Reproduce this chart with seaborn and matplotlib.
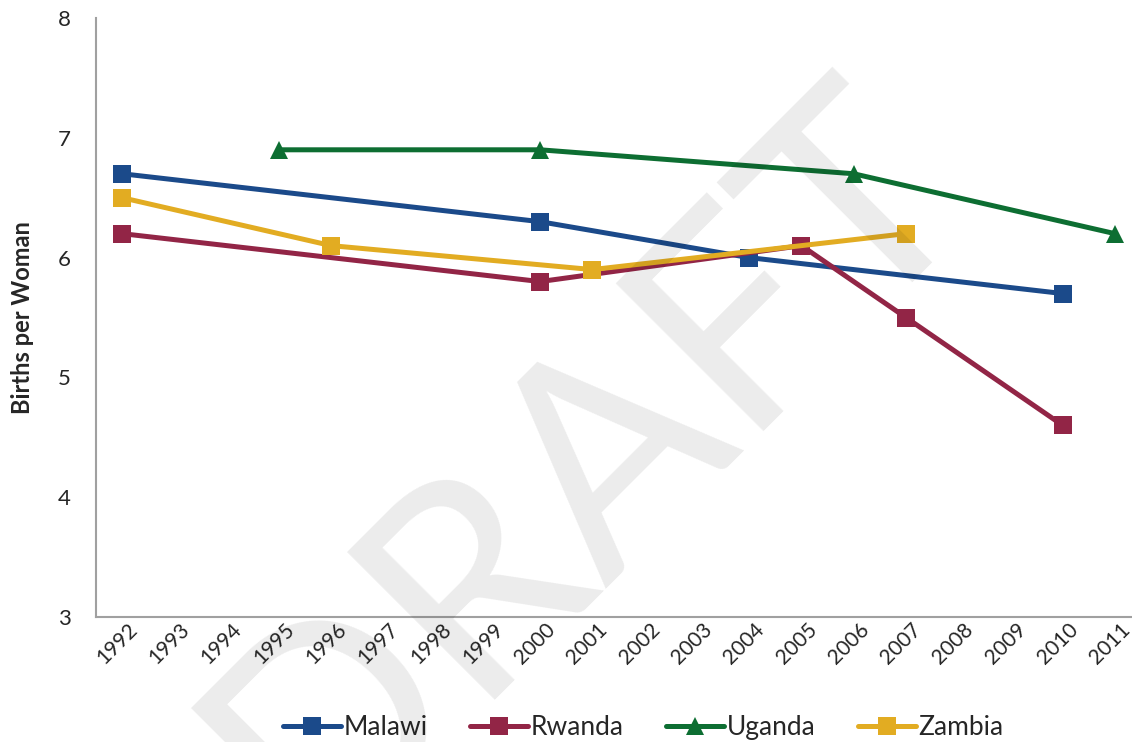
import numpy as np
import pandas as pd
import seaborn as sns
import matplotlib
matplotlib.use("Agg")
from matplotlib import pyplot as plt
from matplotlib import transforms

years = list(range(1992, 2012))

malawi_years = [1992, 2000, 2004, 2010]
malawi_tfr = [6.7, 6.3, 6.0, 5.7]
rwanda_years = [1992, 2000, 2005, 2007, 2010]
rwanda_tfr = [6.2, 5.8, 6.1, 5.5, 4.6]
uganda_years = [1995, 2000, 2006, 2011]
uganda_tfr = [6.9, 6.9, 6.7, 6.2]
zambia_years = [1992, 1996, 2001, 2007]
zambia_tfr = [6.5, 6.1, 5.9, 6.2]

countries = ["Malawi", "Rwanda", "Uganda", "Zambia"]
colors = {"Malawi": "#1b4a8a", "Rwanda": "#922546", "Uganda": "#0d6e32", "Zambia": "#e2ac22"}
markers = {"Malawi": "s", "Rwanda": "s", "Uganda": "^", "Zambia": "s"}

rows = []
for name, yrs, vals in [("Malawi", malawi_years, malawi_tfr), ("Rwanda", rwanda_years, rwanda_tfr),
                        ("Uganda", uganda_years, uganda_tfr), ("Zambia", zambia_years, zambia_tfr)]:
    for y, v in zip(yrs, vals):
        rows.append({"country": name, "pos": years.index(y), "tfr": v})
df = pd.DataFrame(rows)

sns.set_style("white")
plt.rcParams['font.family'] = ['Lato', 'DejaVu Sans']

fig = plt.figure(figsize=(11.32, 7.42), dpi=100)
ax = fig.add_axes([0.0848, 0.1685, 0.9232, 0.8072])

sns.lineplot(data=df, x="pos", y="tfr", hue="country", style="country",
             hue_order=countries, style_order=countries, palette=colors,
             markers=markers, dashes=False, linewidth=3.6, markersize=13.5,
             markeredgewidth=0, ax=ax)

ax.set_xlim(-0.5, 19.5)
ax.set_ylim(3, 8)
ax.set_yticks([3, 4, 5, 6, 7, 8])
ax.set_xticks(range(len(years)))
ax.set_xticklabels([str(y) for y in years], rotation=45, fontsize=15)
ax.tick_params(axis="y", labelsize=16, pad=18, length=0)
ax.tick_params(axis="x", length=0, pad=2)
# nudge rotated year labels a little to the left so 2011 stays inside
shift = transforms.ScaledTranslation(-5 / 100, 0, fig.dpi_scale_trans)
for lab in ax.get_xticklabels():
    lab.set_transform(lab.get_transform() + shift)
ax.set_xlabel("")
ax.set_ylabel("Births per Woman", fontsize=17, fontweight="bold", labelpad=17)
for s in ["top", "right"]:
    ax.spines[s].set_visible(False)
for s in ["left", "bottom"]:
    ax.spines[s].set_color("#a0a0a0")
    ax.spines[s].set_linewidth(1.5)

h, l = ax.get_legend_handles_labels()
ax.legend(h, l, loc="center", bbox_to_anchor=(0.524, -0.185),
          ncol=4, frameon=False, fontsize=19, handlelength=2.2, columnspacing=1.6,
          handletextpad=0.1)

# watermark, drawn over the plot
fig.text(0.569, 0.294, "DRAFT", fontsize=210, color="black", alpha=0.08, rotation=45,
         ha="center", va="baseline", rotation_mode="anchor", zorder=10)

fig.savefig("out.png", dpi=100)
